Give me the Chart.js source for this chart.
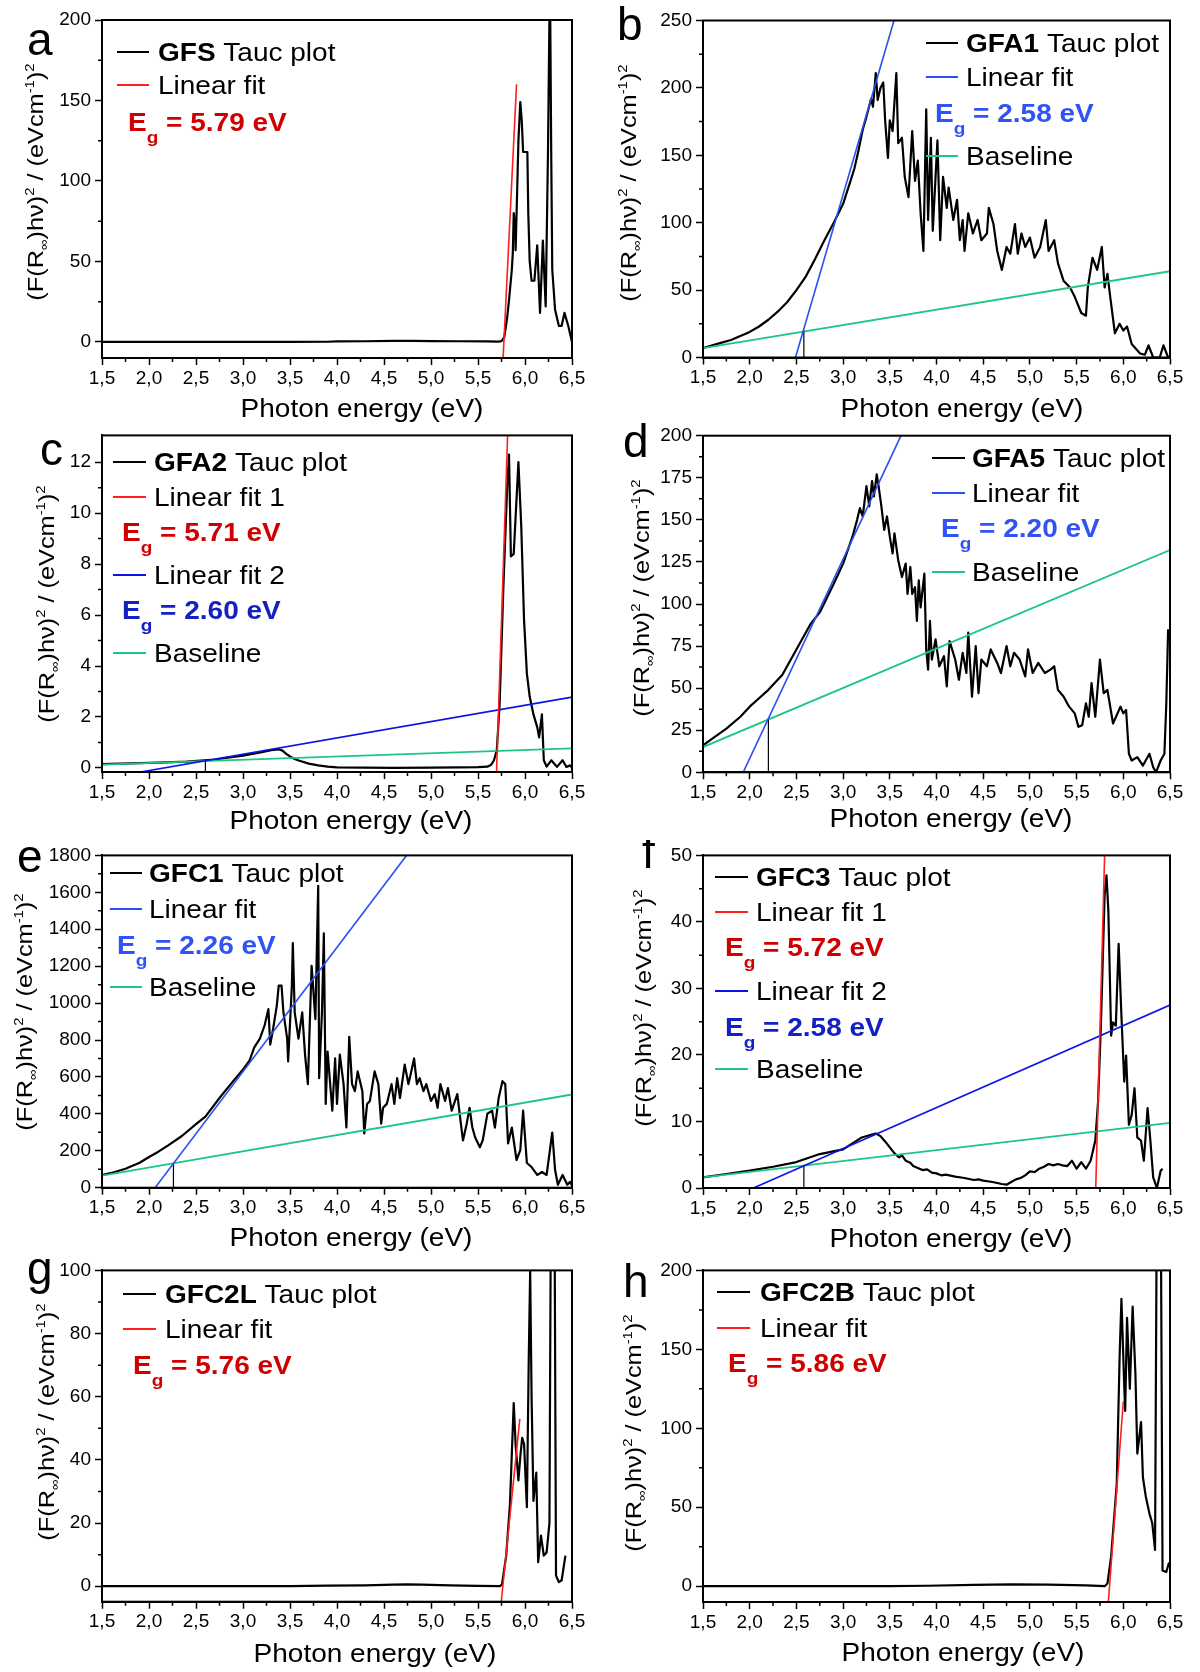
<!DOCTYPE html>
<html>
<head>
<meta charset="utf-8">
<script src="https://cdn.jsdelivr.net/npm/chart.js@4.4.1/dist/chart.umd.min.js"></script>
<style>
  html, body { margin: 0; padding: 0; background: #fff; }
  body { width: 1200px; height: 1672px; position: relative; overflow: hidden; }
  canvas { position: absolute; }
</style>
</head>
<body>
<script>
// ===== DATA (photon energy in eV, Tauc values) =====
const xTicks = [1.5, 2.0, 2.5, 3.0, 3.5, 4.0, 4.5, 5.0, 5.5, 6.0, 6.5];
const yTicksA = [0, 50, 100, 150, 200];
const yTicksB = [0, 50, 100, 150, 200, 250];
const yTicksC = [0, 2, 4, 6, 8, 10, 12];
const yTicksD = [0, 25, 50, 75, 100, 125, 150, 175, 200];
const yTicksE = [0, 200, 400, 600, 800, 1000, 1200, 1400, 1600, 1800];
const yTicksF = [0, 10, 20, 30, 40, 50];
const yTicksG = [0, 20, 40, 60, 80, 100];
const yTicksH = [0, 50, 100, 150, 200];

// a - GFS
const eA = [1.5, 2.0, 2.5, 3.0, 3.5, 3.9, 4.0, 4.3, 4.6, 4.8, 5.0, 5.3, 5.6, 5.72, 5.75, 5.78, 5.81, 5.83, 5.86, 5.87, 5.88, 5.895, 5.90, 5.915, 5.93, 5.95, 5.965, 5.98, 6.0, 6.025, 6.035, 6.05, 6.07, 6.10, 6.13, 6.16, 6.19, 6.22, 6.245, 6.265, 6.28, 6.29, 6.32, 6.36, 6.39, 6.42, 6.46, 6.5];
const vA = [0, 0, 0, 0, 0, 0.1, 0.3, 0.4, 0.6, 0.7, 0.5, 0.4, 0.3, 0.2, 0.5, 3, 15, 26, 45, 55, 80, 72, 57, 90, 125, 149, 138, 118, 118, 118, 80, 50, 38, 38, 60, 18, 63, 22, 120, 230, 110, 45, 20, 10, 10, 18, 10, 0];
const fitAx = [5.767, 5.91];
const fitAy = [-10, 160];

// b - GFA1
const eB = [1.5, 1.6, 1.7, 1.8, 1.9, 2.0, 2.1, 2.2, 2.3, 2.4, 2.5, 2.6, 2.7, 2.8, 2.9, 3.0, 3.07, 3.12, 3.16, 3.21, 3.24, 3.27, 3.30, 3.32, 3.35, 3.37, 3.40, 3.43, 3.45, 3.48, 3.50, 3.53, 3.57, 3.59, 3.63, 3.66, 3.70, 3.74, 3.77, 3.80, 3.83, 3.86, 3.89, 3.91, 3.94, 3.96, 4.01, 4.04, 4.07, 4.11, 4.13, 4.18, 4.22, 4.25, 4.28, 4.30, 4.34, 4.39, 4.44, 4.48, 4.54, 4.56, 4.61, 4.65, 4.70, 4.75, 4.79, 4.84, 4.87, 4.91, 4.95, 5.00, 5.05, 5.11, 5.17, 5.20, 5.26, 5.30, 5.36, 5.43, 5.48, 5.55, 5.60, 5.62, 5.67, 5.72, 5.77, 5.80, 5.83, 5.86, 5.91, 5.96, 6.00, 6.04, 6.09, 6.18, 6.23, 6.27, 6.32, 6.39, 6.43, 6.48, 6.5];
const vB = [7, 9, 11, 13, 16, 19, 23, 28, 34, 41, 50, 60, 73, 87, 100, 114, 129, 140, 152, 169, 176, 184, 192, 186, 211, 191, 200, 204, 176, 148, 176, 168, 211, 159, 163, 134, 119, 168, 131, 146, 107, 79, 184, 102, 163, 94, 161, 87, 134, 111, 126, 102, 117, 87, 102, 79, 107, 92, 102, 87, 92, 111, 99, 79, 65, 82, 77, 99, 77, 92, 82, 89, 74, 82, 102, 79, 87, 70, 57, 52, 45, 33, 31, 52, 74, 65, 82, 52, 62, 45, 18, 25, 20, 23, 10, 3, 2, 9, 0, 0, 9, 0, 0];
const fitBx = [2.49, 3.545];
const fitBy = [0, 250];
const baseBx = [1.5, 6.5];
const baseBy = [7, 64];
const dropBx = [2.58, 2.58];
const dropBy = [0, 20];

// c - GFA2
const eC = [1.5, 1.8, 2.1, 2.4, 2.7, 3.0, 3.2, 3.3, 3.38, 3.42, 3.46, 3.5, 3.55, 3.6, 3.7, 3.8, 3.9, 4.0, 4.3, 4.6, 5.0, 5.3, 5.5, 5.6, 5.64, 5.67, 5.70, 5.73, 5.77, 5.81, 5.83, 5.85, 5.88, 5.93, 5.96, 5.99, 6.02, 6.05, 6.09, 6.13, 6.15, 6.18, 6.20, 6.23, 6.28, 6.34, 6.40, 6.44, 6.48, 6.5];
const vC = [0.15, 0.18, 0.21, 0.25, 0.33, 0.48, 0.62, 0.7, 0.73, 0.68, 0.55, 0.45, 0.35, 0.28, 0.17, 0.1, 0.05, 0.02, 0.01, 0, 0.01, 0.02, 0.03, 0.05, 0.12, 0.3, 0.7, 2.5, 7.1, 11, 12.3, 8.3, 8.4, 12, 9.5, 5.8, 3.7, 2.8, 2.1, 1.6, 1.2, 2.1, 0.3, 0.05, 0.3, 0.04, 0.3, 0.04, 0.1, 0];
const fit1Cx = [5.697, 5.815];
const fit1Cy = [-0.16, 13.05];
const fit2Cx = [1.85, 6.5];
const fit2Cy = [-0.2, 2.78];
const baseCx = [1.5, 6.5];
const baseCy = [0.13, 0.77];
const dropCx = [2.6, 2.6];
const dropCy = [-0.16, 0.28];

// d - GFA5
const eD = [1.5, 1.6, 1.75, 1.9, 2.0, 2.1, 2.2, 2.35, 2.5, 2.65, 2.75, 2.9, 3.0, 3.1, 3.15, 3.18, 3.21, 3.25, 3.28, 3.31, 3.33, 3.36, 3.38, 3.41, 3.44, 3.47, 3.50, 3.53, 3.55, 3.59, 3.63, 3.67, 3.69, 3.72, 3.74, 3.77, 3.79, 3.81, 3.83, 3.87, 3.89, 3.91, 3.93, 3.95, 3.99, 4.03, 4.08, 4.11, 4.14, 4.20, 4.24, 4.28, 4.32, 4.34, 4.38, 4.42, 4.45, 4.48, 4.54, 4.58, 4.65, 4.69, 4.75, 4.79, 4.83, 4.89, 4.95, 4.98, 5.03, 5.09, 5.16, 5.22, 5.26, 5.30, 5.36, 5.42, 5.48, 5.52, 5.56, 5.60, 5.63, 5.66, 5.70, 5.75, 5.79, 5.83, 5.89, 5.97, 6.00, 6.03, 6.06, 6.09, 6.15, 6.21, 6.28, 6.32, 6.35, 6.40, 6.44, 6.46, 6.48];
const vD = [16, 20, 26, 33, 39, 44, 49, 58, 73, 88, 95, 112, 124, 140, 150, 157, 152, 170, 158, 173, 164, 177, 170, 158, 144, 152, 140, 130, 142, 126, 116, 124, 106, 122, 106, 110, 90, 114, 98, 118, 73, 61, 90, 67, 79, 63, 69, 51, 78, 67, 55, 71, 59, 83, 45, 75, 47, 67, 63, 73, 65, 59, 75, 63, 71, 67, 57, 73, 59, 65, 59, 61, 63, 49, 45, 39, 35, 27, 28, 41, 33, 53, 33, 67, 47, 49, 29, 39, 35, 37, 11, 7, 9, 4, 11, 3, 0, 7, 11, 40, 85];
const fitDx = [1.93, 3.62];
const fitDy = [0, 200];
const baseDx = [1.5, 6.5];
const baseDy = [15, 132];
const dropDx = [2.2, 2.2];
const dropDy = [0, 32];

// e - GFC1
const eE = [1.5, 1.6, 1.75, 1.9, 2.0, 2.1, 2.2, 2.35, 2.5, 2.6, 2.75, 2.9, 3.0, 3.07, 3.12, 3.18, 3.23, 3.27, 3.29, 3.32, 3.36, 3.38, 3.41, 3.43, 3.47, 3.48, 3.52, 3.53, 3.55, 3.59, 3.63, 3.66, 3.69, 3.73, 3.77, 3.80, 3.81, 3.84, 3.86, 3.88, 3.90, 3.95, 3.98, 4.00, 4.03, 4.07, 4.10, 4.13, 4.16, 4.19, 4.22, 4.27, 4.29, 4.32, 4.35, 4.40, 4.44, 4.47, 4.49, 4.53, 4.58, 4.61, 4.64, 4.67, 4.72, 4.76, 4.79, 4.82, 4.85, 4.88, 4.92, 4.95, 5.00, 5.04, 5.07, 5.10, 5.15, 5.18, 5.22, 5.28, 5.31, 5.34, 5.38, 5.41, 5.44, 5.47, 5.52, 5.55, 5.60, 5.65, 5.68, 5.72, 5.76, 5.79, 5.82, 5.86, 5.91, 5.95, 5.98, 6.02, 6.07, 6.13, 6.18, 6.23, 6.29, 6.32, 6.35, 6.40, 6.45, 6.48, 6.5];
const vE = [68, 80, 103, 135, 166, 195, 228, 280, 344, 385, 486, 580, 640, 690, 760, 807, 880, 967, 775, 860, 988, 1095, 1095, 950, 807, 684, 1095, 1325, 950, 807, 950, 721, 561, 1202, 913, 1635, 593, 950, 1378, 454, 737, 417, 700, 454, 721, 561, 326, 817, 561, 523, 630, 523, 294, 454, 470, 630, 561, 347, 433, 454, 561, 454, 593, 486, 667, 561, 630, 700, 561, 593, 523, 561, 470, 507, 433, 561, 470, 540, 417, 507, 379, 256, 347, 433, 326, 272, 219, 256, 401, 417, 326, 486, 577, 561, 240, 326, 150, 203, 417, 134, 112, 69, 85, 69, 299, 96, 16, 69, 16, 32, 10];
const fitEx = [2.065, 4.74];
const fitEy = [0, 1800];
const baseEx = [1.5, 6.5];
const baseEy = [65, 505];
const dropEx = [2.26, 2.26];
const dropEy = [0, 132];

// f - GFC3
const eF = [1.5, 1.75, 2.0, 2.25, 2.5, 2.75, 3.0, 3.1, 3.2, 3.3, 3.35, 3.4, 3.45, 3.5, 3.55, 3.6, 3.63, 3.67, 3.72, 3.75, 3.8, 3.85, 3.9, 3.95, 4.0, 4.05, 4.1, 4.2, 4.3, 4.4, 4.45, 4.5, 4.6, 4.7, 4.75, 4.8, 4.85, 4.9, 4.95, 5.0, 5.05, 5.1, 5.15, 5.2, 5.25, 5.3, 5.35, 5.4, 5.45, 5.5, 5.55, 5.6, 5.65, 5.7, 5.73, 5.76, 5.80, 5.82, 5.84, 5.87, 5.89, 5.92, 5.95, 5.98, 6.01, 6.03, 6.06, 6.09, 6.12, 6.15, 6.19, 6.22, 6.26, 6.29, 6.32, 6.36, 6.40, 6.42];
const vF = [1.6, 2.1, 2.6, 3.2, 3.9, 5.1, 5.8, 6.7, 7.6, 8.0, 8.2, 7.8, 7.0, 6.1, 5.2, 4.6, 4.9, 4.1, 3.8, 3.3, 3.0, 2.7, 2.8, 2.3, 2.2, 1.9, 2.0, 1.7, 1.5, 1.2, 1.3, 1.1, 0.9, 0.6, 0.5, 0.9, 1.3, 1.5, 1.9, 2.5, 2.4, 2.9, 3.2, 3.6, 3.4, 3.6, 3.4, 3.3, 4.1, 2.9, 3.9, 2.9, 4.1, 7.1, 13, 24.4, 44, 47, 41.7, 22.9, 24.9, 24.4, 36.7, 25.9, 16, 19.9, 9.5, 11, 15, 7.6, 7.1, 4.1, 12, 7.1, 1.6, 0, 2.6, 2.9];
const fit1Fx = [5.705, 5.80];
const fit1Fy = [0, 50];
const fit2Fx = [2.04, 6.5];
const fit2Fy = [0, 27.5];
const baseFx = [1.5, 6.5];
const baseFy = [1.6, 9.8];
const dropFx = [2.58, 2.58];
const dropFy = [0, 3.4];

// g - GFC2L
const eG = [1.5, 2.5, 3.5, 3.9, 4.3, 4.6, 4.75, 4.9, 5.2, 5.5, 5.73, 5.755, 5.8, 5.84, 5.88, 5.90, 5.93, 5.95, 5.97, 5.99, 6.02, 6.04, 6.055, 6.07, 6.09, 6.12, 6.14, 6.17, 6.20, 6.23, 6.26, 6.28, 6.31, 6.33, 6.36, 6.39, 6.43];
const vG = [0, 0, 0, 0.2, 0.3, 0.5, 0.6, 0.5, 0.3, 0.1, 0, 0.5, 9.7, 26, 58, 45, 33.5, 41, 47, 45, 25, 72, 100, 60, 27, 36, 7.6, 16, 9.7, 10.7, 20, 150, 150, 3.4, 1.3, 1.9, 9.7];
const fitGx = [5.747, 5.945];
const fitGy = [-5, 53];

// h - GFC2B
const eH = [1.5, 2.5, 3.5, 3.9, 4.4, 4.8, 5.2, 5.6, 5.8, 5.83, 5.87, 5.93, 5.96, 5.98, 6.01, 6.02, 6.04, 6.07, 6.10, 6.13, 6.15, 6.19, 6.21, 6.24, 6.28, 6.31, 6.34, 6.36, 6.40, 6.42, 6.46, 6.49];
const vH = [0, 0, 0, 0.3, 0.8, 1.2, 1.0, 0.5, 0, 1.7, 19, 65, 144, 182, 127, 111, 170, 125, 177, 134, 84, 104, 69, 57, 46, 40, 23, 260, 260, 10, 9, 15];
const fitHx = [5.84, 6.0];
const fitHy = [-10, 117];

// ===== STYLE =====
const FONT = '"Liberation Sans", Arial, Helvetica, sans-serif';
const BLACK = '#000000';
const RED = '#ff1f1f';
const BLUE = '#2c50f0';
const NAVY = '#0a14e6';
const GREEN = '#1dc77f';
const EG_RED = '#cf0000';
const EG_BLUE = '#3153f5';
const EG_NAVY = '#1320c2';
const CURVE_W = 2.2;

Chart.defaults.font.family = FONT;
Chart.defaults.color = '#000';

const S = (x, y, color, width) => ({ x, y, color, width });

const panels = [
  { left: 0, top: 0, h: 432, area: [102, 20, 572, 358], ymin: -10, ymax: 200, yTicks: yTicksA,
    series: [S(fitAx, fitAy, RED, 1.6), S(eA, vA, BLACK, CURVE_W)],
    letter: ['a', 27, 55], yTitle: [37, 182], xTitle: [362, 408], lineX: [117, 149], textX: 158,
    legend: [
      { y: 52, line: BLACK, label: [['GFS', true], [' Tauc plot', false]] },
      { y: 85, line: RED, label: [['Linear fit', false]] },
      { y: 122, eg: '5.79', color: EG_RED, x: 128 }
    ] },
  { left: 600, top: 0, h: 432, area: [103, 20.5, 570, 357.5], ymin: 0, ymax: 250, yTicks: yTicksB,
    series: [S(fitBx, fitBy, BLUE, 1.6), S(dropBx, dropBy, BLACK, 1.2), S(baseBx, baseBy, GREEN, 1.8), S(eB, vB, BLACK, CURVE_W)],
    letter: ['b', 17, 40], yTitle: [30, 183], xTitle: [362, 408], lineX: [326, 358], textX: 366,
    legend: [
      { y: 43, line: BLACK, label: [['GFA1', true], [' Tauc plot', false]] },
      { y: 77, line: BLUE, label: [['Linear fit', false]] },
      { y: 113, eg: '2.58', color: EG_BLUE, x: 335 },
      { y: 156, line: GREEN, label: [['Baseline', false]] }
    ] },
  { left: 0, top: 420, h: 432, area: [102, 15, 572, 352], ymin: -0.16, ymax: 13.05, yTicks: yTicksC,
    series: [S(fit1Cx, fit1Cy, RED, 1.6), S(fit2Cx, fit2Cy, NAVY, 1.6), S(dropCx, dropCy, BLACK, 1.2), S(baseCx, baseCy, GREEN, 1.8), S(eC, vC, BLACK, CURVE_W)],
    letter: ['c', 40, 45], yTitle: [48, 184], xTitle: [351, 400], lineX: [113, 146], textX: 154,
    legend: [
      { y: 42, line: BLACK, label: [['GFA2', true], [' Tauc plot', false]] },
      { y: 77, line: RED, label: [['Linear fit 1', false]] },
      { y: 112, eg: '5.71', color: EG_RED, x: 122 },
      { y: 155, line: NAVY, label: [['Linear fit 2', false]] },
      { y: 190, eg: '2.60', color: EG_NAVY, x: 122 },
      { y: 233, line: GREEN, label: [['Baseline', false]] }
    ] },
  { left: 600, top: 420, h: 432, area: [103, 15.7, 570, 352.3], ymin: 0, ymax: 200, yTicks: yTicksD,
    series: [S(fitDx, fitDy, BLUE, 1.6), S(dropDx, dropDy, BLACK, 1.2), S(baseDx, baseDy, GREEN, 1.8), S(eD, vD, BLACK, CURVE_W)],
    letter: ['d', 23, 37], yTitle: [43, 178], xTitle: [351, 398], lineX: [332, 365], textX: 372,
    legend: [
      { y: 38, line: BLACK, label: [['GFA5', true], [' Tauc plot', false]] },
      { y: 73, line: BLUE, label: [['Linear fit', false]] },
      { y: 108, eg: '2.20', color: EG_BLUE, x: 341 },
      { y: 152, line: GREEN, label: [['Baseline', false]] }
    ] },
  { left: 0, top: 840, h: 417, area: [102, 10.7, 572, 347.7], ymin: 0, ymax: 1800, yTicks: yTicksE,
    series: [S(fitEx, fitEy, BLUE, 1.6), S(dropEx, dropEy, BLACK, 1.2), S(baseEx, baseEy, GREEN, 1.8), S(eE, vE, BLACK, CURVE_W)],
    letter: ['e', 17, 32], yTitle: [26, 172], xTitle: [351, 397], lineX: [110, 142], textX: 149,
    legend: [
      { y: 33, line: BLACK, label: [['GFC1', true], [' Tauc plot', false]] },
      { y: 69, line: BLUE, label: [['Linear fit', false]] },
      { y: 105, eg: '2.26', color: EG_BLUE, x: 117 },
      { y: 147, line: GREEN, label: [['Baseline', false]] }
    ] },
  { left: 600, top: 840, h: 417, area: [103, 11, 570, 348], ymin: 0, ymax: 50, yTicks: yTicksF,
    series: [S(fit1Fx, fit1Fy, RED, 1.6), S(fit2Fx, fit2Fy, NAVY, 1.6), S(dropFx, dropFy, BLACK, 1.2), S(baseFx, baseFy, GREEN, 1.8), S(eF, vF, BLACK, CURVE_W)],
    letter: ['f', 42, 28], yTitle: [45, 168], xTitle: [351, 398], lineX: [115, 148], textX: 156,
    legend: [
      { y: 37, line: BLACK, label: [['GFC3', true], [' Tauc plot', false]] },
      { y: 72, line: RED, label: [['Linear fit 1', false]] },
      { y: 107, eg: '5.72', color: EG_RED, x: 125 },
      { y: 151, line: NAVY, label: [['Linear fit 2', false]] },
      { y: 187, eg: '2.58', color: EG_NAVY, x: 125 },
      { y: 229, line: GREEN, label: [['Baseline', false]] }
    ] },
  { left: 0, top: 1255, h: 417, area: [102, 10, 572, 346.7], ymin: -4.9, ymax: 100, yTicks: yTicksG,
    series: [S(fitGx, fitGy, RED, 1.6), S(eG, vG, BLACK, CURVE_W)],
    letter: ['g', 27, 29], yTitle: [48, 167], xTitle: [375, 398], lineX: [123, 156], textX: 165,
    legend: [
      { y: 39, line: BLACK, label: [['GFC2L', true], [' Tauc plot', false]] },
      { y: 74, line: RED, label: [['Linear fit', false]] },
      { y: 110, eg: '5.76', color: EG_RED, x: 133 }
    ] },
  { left: 600, top: 1255, h: 417, area: [103, 10, 570, 347], ymin: -10, ymax: 200, yTicks: yTicksH,
    series: [S(fitHx, fitHy, RED, 1.6), S(eH, vH, BLACK, CURVE_W)],
    letter: ['h', 23, 42], yTitle: [35, 178], xTitle: [363, 397], lineX: [117, 150], textX: 160,
    legend: [
      { y: 37, line: BLACK, label: [['GFC2B', true], [' Tauc plot', false]] },
      { y: 73, line: RED, label: [['Linear fit', false]] },
      { y: 108, eg: '5.86', color: EG_RED, x: 128 }
    ] }
];

// ===== TEXT HELPERS =====
function partsWidth(ctx, parts) {
  let w = 0;
  for (const p of parts) { ctx.font = p.f; w += ctx.measureText(p.t).width; }
  return w;
}

function drawParts(ctx, parts, x, y, sx) {
  ctx.save();
  ctx.translate(x, y);
  ctx.scale(sx, 1);
  let cx = 0;
  for (const p of parts) {
    ctx.font = p.f;
    ctx.fillText(p.t, cx, p.dy || 0);
    cx += ctx.measureText(p.t).width;
  }
  ctx.restore();
}

function drawEg(ctx, x, y, val, color) {
  ctx.fillStyle = color;
  drawParts(ctx, [
    { t: 'E', f: 'bold 25px ' + FONT },
    { t: 'g', f: 'bold 17px ' + FONT, dy: 12 },
    { t: ' = ' + val + ' eV', f: 'bold 25px ' + FONT }
  ], x, y + 9, 1.12);
}

function drawYTitle(ctx, cx, cy) {
  const big = '22px ' + FONT, small = '13px ' + FONT;
  const parts = [
    { t: '(F(R', f: big }, { t: '\u221e', f: small, dy: 5 }, { t: ')h\u03bd)', f: big },
    { t: '2', f: small, dy: -9 }, { t: ' / (eVcm', f: big }, { t: '-1', f: small, dy: -9 },
    { t: ')', f: big }, { t: '2', f: small, dy: -9 }
  ];
  const sx = 1.15;
  ctx.save();
  ctx.translate(cx, cy);
  ctx.rotate(-Math.PI / 2);
  const w = partsWidth(ctx, parts) * sx;
  ctx.fillStyle = '#000';
  drawParts(ctx, parts, -w / 2, 6, sx);
  ctx.restore();
}

// frame, minor ticks, panel letter, axis titles and legend
function makeDecor(p) {
  return {
    id: 'decor',
    afterDraw(chart) {
      const ctx = chart.ctx, A = chart.chartArea;
      const xs = chart.scales.x, ys = chart.scales.y;
      ctx.save();
      ctx.strokeStyle = '#000';
      ctx.lineWidth = 2;
      ctx.strokeRect(A.left, A.top, A.right - A.left, A.bottom - A.top);

      ctx.lineWidth = 1.5;
      ctx.beginPath();
      for (let i = 0; i < xTicks.length - 1; i++) {
        const px = xs.getPixelForValue((xTicks[i] + xTicks[i + 1]) / 2);
        ctx.moveTo(px, A.bottom);
        ctx.lineTo(px, A.bottom + 4);
      }
      for (let i = 0; i < p.yTicks.length - 1; i++) {
        const py = ys.getPixelForValue((p.yTicks[i] + p.yTicks[i + 1]) / 2);
        ctx.moveTo(A.left - 4, py);
        ctx.lineTo(A.left, py);
      }
      ctx.stroke();

      ctx.textAlign = 'left';
      ctx.textBaseline = 'alphabetic';
      ctx.fillStyle = '#000';
      ctx.font = '46px ' + FONT;
      ctx.fillText(p.letter[0], p.letter[1], p.letter[2]);

      drawYTitle(ctx, p.yTitle[0], p.yTitle[1]);

      const xt = [{ t: 'Photon energy (eV)', f: '25px ' + FONT }];
      const xw = partsWidth(ctx, xt) * 1.12;
      ctx.fillStyle = '#000';
      drawParts(ctx, xt, p.xTitle[0] - xw / 2, p.xTitle[1] + 9, 1.12);

      for (const row of p.legend) {
        if (row.eg) {
          drawEg(ctx, row.x, row.y, row.eg, row.color);
          continue;
        }
        ctx.strokeStyle = row.line;
        ctx.lineWidth = 2;
        ctx.beginPath();
        ctx.moveTo(p.lineX[0], row.y);
        ctx.lineTo(p.lineX[1], row.y);
        ctx.stroke();
        ctx.fillStyle = '#000';
        drawParts(ctx, row.label.map(([t, bold]) => ({ t, f: (bold ? 'bold ' : '') + '25px ' + FONT })),
          p.textX, row.y + 9, 1.12);
      }
      ctx.restore();
    }
  };
}

const axisGrid = { drawOnChartArea: false, drawTicks: true, tickLength: 7, tickWidth: 1.5, tickColor: '#000' };
const axisBorder = { display: true, color: '#000', width: 2 };

function makePanel(p) {
  const canvas = document.createElement('canvas');
  canvas.width = 600;
  canvas.height = p.h;
  canvas.style.left = p.left + 'px';
  canvas.style.top = p.top + 'px';
  document.body.appendChild(canvas);

  new Chart(canvas.getContext('2d'), {
    type: 'scatter',
    data: {
      datasets: p.series.map(s => ({
        data: s.x.map((v, i) => ({ x: v, y: s.y[i] })),
        showLine: true,
        borderColor: s.color,
        backgroundColor: s.color,
        borderWidth: s.width,
        borderJoinStyle: 'round',
        pointRadius: 0,
        pointHoverRadius: 0,
        tension: 0,
        fill: false
      }))
    },
    options: {
      responsive: false,
      animation: false,
      events: [],
      layout: { padding: { left: 0, top: p.area[1], right: 600 - p.area[2], bottom: p.h - p.area[3] - 40 } },
      plugins: { legend: { display: false }, tooltip: { enabled: false } },
      scales: {
        x: {
          type: 'linear', min: 1.5, max: 6.5,
          afterBuildTicks: s => { s.ticks = xTicks.map(v => ({ value: v })); },
          afterFit: s => { s.height = 40; },
          ticks: { font: { size: 19 }, color: '#000', padding: 2, maxRotation: 0, autoSkip: false,
                   callback: v => v.toFixed(1).replace('.', ',') },
          grid: axisGrid,
          border: axisBorder
        },
        y: {
          type: 'linear', min: p.ymin, max: p.ymax,
          afterBuildTicks: s => { s.ticks = p.yTicks.map(v => ({ value: v })); },
          afterFit: s => { s.width = p.area[0]; },
          ticks: { font: { size: 19 }, color: '#000', padding: 4, autoSkip: false, callback: v => String(v) },
          grid: axisGrid,
          border: axisBorder
        }
      }
    },
    plugins: [makeDecor(p)]
  });
}

panels.forEach(makePanel);
</script>
</body>
</html>
